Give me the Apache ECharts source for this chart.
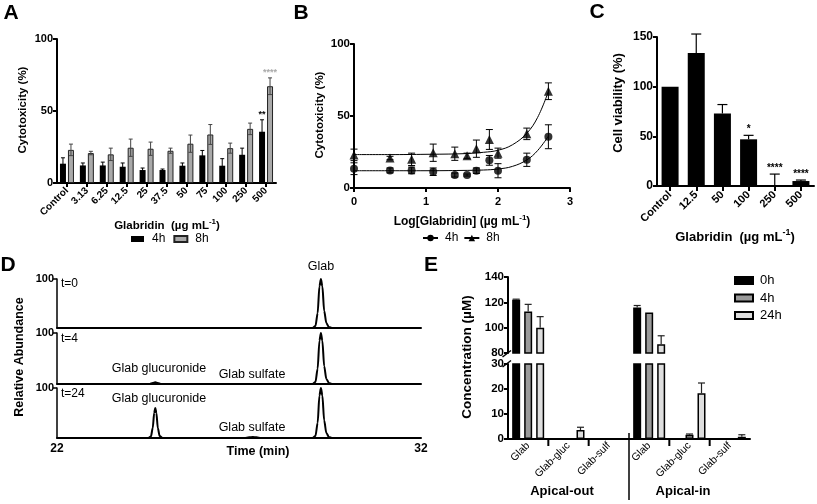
<!DOCTYPE html>
<html><head><meta charset="utf-8">
<script src="https://cdn.jsdelivr.net/npm/echarts@6/dist/echarts.min.js"></script>
<style>html,body{margin:0;padding:0;background:#fff}#c{width:817px;height:504px}</style>
</head><body><div id="c"></div>
<script>
// ---------- Panel A / B data ----------
const catA = ['Control','3.13','6.25','12.5','25','37.5','50','75','100','250','500'];
const a4h = [13.4,12.2,12.2,11.3,9.0,9.0,12.0,19.2,12.0,19.6,35.6];
const a4hErr = [4.1,1.7,2.3,2.6,1.4,0.7,1.9,3.4,4.9,4.6,8.3];
const a8h = [23.0,20.8,19.9,24.5,23.8,22.4,27.3,33.7,24.2,37.6,67.2];
const a8hErr = [4.0,1.2,4.3,6.0,4.6,1.8,6.0,6.9,3.5,4.0,5.8];
const a4hSig = ['','','','','','','','','','','**'];
const a8hSig = ['','','','','','','','','','','****'];
const logConc = [0,0.50,0.80,1.10,1.40,1.57,1.70,1.88,2.00,2.40,2.70];
const fitX = [0,0.5,1,1.5,1.8,2,2.2,2.4,2.55,2.7];
const fit4h = [12,12,12,12.2,12.5,13.2,15,19.5,26,36];
const fit8h = [23.2,23.2,23.4,23.8,24.8,26.2,30,38,49,67];
// ---------- Panel C data ----------
const catC = ['Control','12.5','50','100','250','500'];
const cVia = [100,134,73,47,1,5];
const cErr = [0,19,9,4,11,1];
const cSig = ['','','','*','****','****'];
// ---------- Panel D data (time, relative abundance) ----------
const glabPeak = [[29.02,0],[29.1,4],[29.16,30],[29.21,85],[29.25,100],[29.29,85],[29.34,35],[29.4,10],[29.47,2],[29.55,0]];
const traceT0 = [[22,0]].concat(glabPeak, [[32,0]]);
const traceT4 = [[22,0],[24.55,0],[24.63,2],[24.7,3.5],[24.77,2],[24.85,0]].concat(glabPeak, [[32,0]]);
const traceT24 = [[22,0],[24.5,0],[24.58,3],[24.63,20],[24.67,50],[24.7,60],[24.73,50],[24.77,20],[24.82,4],[24.9,0],
  [27.15,0],[27.28,1.5],[27.38,2],[27.48,1.5],[27.6,0]].concat(glabPeak, [[32,0]]);
// ---------- Panel E data ----------
const catE = ['Glab','Glab-gluc','Glab-sulf','Glab','Glab-gluc','Glab-sulf'];
const e0h = [122,0,0,116,0,0];
const e0hErr = [0.5,0,0,1.5,0,0];
const e4h = [112.7,0.3,0,112,1.7,0];
const e4hErr = [5.7,0,0,0,0.3,0];
const e24h = [100,3.6,0.2,87,18.3,0.9];
const e24hErr = [8.7,1.1,0,6.6,4.1,0.8];

const FF = "'Liberation Sans', Arial, Helvetica, sans-serif";
const chart = echarts.init(document.getElementById('c'));

function font(size, bold){ return (bold?'bold ':'') + size + 'px ' + FF; }
function txt(x, y, text, size, bold, o){
  o = o || {};
  return {type:'text', x:x, y:y, rotation:o.rot||0, silent:true, z:100,
    style:{text:text, fill:o.color||'#000', font:font(size,bold), align:o.align||'center', verticalAlign:o.va||'middle'}};
}
function supTxt(x, y, pre, sup, post, size){
  return {type:'text', x:x, y:y, silent:true, z:100,
    style:{text:'{a|'+pre+'}{s|'+sup+'}{a|'+post+'}', align:'center', verticalAlign:'middle',
      rich:{a:{font:font(size,true), fill:'#000', lineHeight:size+4},
            s:{font:font(Math.round(size*0.7),true), fill:'#000', verticalAlign:'top'}}}};
}
function line(x1,y1,x2,y2,w){
  return {type:'line', silent:true, z:100, shape:{x1,y1,x2,y2}, style:{stroke:'#000', lineWidth:w||2}};
}
function valAxis(gi, min, max, interval, fs, extra){
  const a = {type:'value', gridIndex:gi, min, max, interval,
    axisLine:{show:true, lineStyle:{color:'#000', width:2}},
    axisTick:{show:true, length:4, lineStyle:{color:'#000', width:2}},
    axisLabel:{fontFamily:FF, fontWeight:'bold', fontSize:fs, color:'#000', margin:4},
    splitLine:{show:false}};
  return Object.assign(a, extra||{});
}
function errBars(xi, yi, xs, vals, errs, opt){
  const data = vals.map((v,i)=>[xs ? xs[i] : i, v, errs[i]]);
  return {type:'custom', xAxisIndex:xi, yAxisIndex:yi, z:5, silent:true, data:data,
    renderItem:function(params, api){
      const x = api.value(0), v = api.value(1), e = api.value(2);
      if (!e) return null;
      if (opt.min != null && v < opt.min) return null;
      if (opt.max != null && v + e > opt.max) return null;
      const top = api.coord([x, v+e]);
      const mid = api.coord([x, v]);
      const bot = opt.both ? api.coord([x, v-e]) : mid;
      const px = mid[0] + (opt.offset||0);
      const c = opt.cap;
      const st = {stroke:opt.color||'#000', lineWidth:opt.width||1};
      const ch = [{type:'line', shape:{x1:px,y1:top[1],x2:px,y2:bot[1]}, style:st},
                  {type:'line', shape:{x1:px-c,y1:top[1],x2:px+c,y2:top[1]}, style:st}];
      if (opt.both) ch.push({type:'line', shape:{x1:px-c,y1:bot[1],x2:px+c,y2:bot[1]}, style:st});
      return {type:'group', children:ch};
    }};
}
function sigLabels(xi, yi, vals, errs, sigs, opt){
  return {type:'custom', xAxisIndex:xi, yAxisIndex:yi, z:6, silent:true,
    data: vals.map((v,i)=>[i, v + errs[i]]),
    renderItem:function(params, api){
      const s = sigs[params.dataIndex];
      if (!s) return null;
      const p = api.coord([api.value(0), api.value(1)]);
      return {type:'text', x:p[0]+(opt.offset||0), y:p[1]-(opt.gap||1),
        style:{text:s, fill:opt.color||'#000', font:font(opt.size||10,true), align:'center', verticalAlign:'bottom'}};
    }};
}
const nz = arr => arr.map(v => v ? v : null);

// grid geometry (layout)
const GE = {left:508, width:242};
const grids = [
  {left:57, top:39, width:219, height:144},   // A
  {left:354, top:44, width:216, height:144},  // B
  {left:657, top:37, width:157, height:149},  // C
  {left:57, top:279, width:364, height:49},   // D t=0
  {left:57, top:333, width:364, height:51},   // D t=4
  {left:57, top:388, width:364, height:50},   // D t=24
  {left:GE.left, top:277, width:GE.width, height:76}, // E upper
  {left:GE.left, top:364, width:GE.width, height:75}  // E lower
].map(g => Object.assign(g, {containLabel:false, outerBoundsMode:'none'}));

const boldLab = (fs, extra) => Object.assign({fontFamily:FF, fontWeight:'bold', fontSize:fs, color:'#000'}, extra||{});
const axLine = {show:true, lineStyle:{color:'#000', width:2}};
const dX = gi => ({type:'value', gridIndex:gi, min:22, max:32, interval:10,
  axisLine:axLine, axisTick:{show:false}, axisLabel:{show:false}, splitLine:{show:false}});

const xAxis = [
  {type:'category', gridIndex:0, data:catA, axisLine:axLine,
    axisTick:{show:true, alignWithLabel:true, length:4, lineStyle:{color:'#000', width:2}},
    axisLabel:boldLab(10, {rotate:45, interval:0, margin:6})},
  valAxis(1, 0, 3, 1, 11, {axisLabel:boldLab(11, {margin:8})}),
  {type:'category', gridIndex:2, data:catC, axisLine:axLine,
    axisTick:{show:true, alignWithLabel:true, length:5, lineStyle:{color:'#000', width:2}},
    axisLabel:boldLab(11, {rotate:45, interval:0, margin:7})},
  dX(3), dX(4),
  Object.assign(dX(5), {axisLabel:boldLab(12, {margin:5})}),
  {type:'category', gridIndex:6, data:catE, show:false},
  {type:'category', gridIndex:7, data:catE, axisLine:axLine, axisTick:{show:false},
    axisLabel:{fontFamily:FF, fontSize:10.5, color:'#000', rotate:45, interval:0, margin:5}}
];
const dY = gi => valAxis(gi, 0, 100, 100, 11, {
  axisLine:{show:true, lineStyle:{color:'#000', width:1.5}},
  axisTick:{show:true, length:4, customValues:[100], lineStyle:{color:'#000', width:1.5}},
  axisLabel:boldLab(11, {margin:3, customValues:[100]})});
const yAxis = [
  valAxis(0, 0, 100, 50, 11),
  valAxis(1, 0, 100, 50, 11.5),
  valAxis(2, 0, 150, 50, 12),
  dY(3), dY(4), dY(5),
  valAxis(6, 80, 140, 20, 11.5),
  valAxis(7, 0, 30, 10, 11.5)
];

const series = [
  // ---- A ----
  {type:'bar', name:'A4h', xAxisIndex:0, yAxisIndex:0, data:a4h, barWidth:6, barGap:'33%', itemStyle:{color:'#000'}},
  {type:'bar', name:'A8h', xAxisIndex:0, yAxisIndex:0, data:a8h, barWidth:6, barGap:'33%',
    itemStyle:{color:'#a9a9a9', borderColor:'#222', borderWidth:1}},
  errBars(0,0,null,a4h,a4hErr,{offset:-4, cap:2, both:true, color:'#000'}),
  errBars(0,0,null,a8h,a8hErr,{offset:4, cap:2, both:true, color:'#444'}),
  sigLabels(0,0,a4h,a4hErr,a4hSig,{offset:-4, gap:1, size:9}),
  sigLabels(0,0,a8h,a8hErr,a8hSig,{offset:4, gap:1, size:9, color:'#aaa'}),
  // ---- B ----
  {type:'line', name:'B4h', xAxisIndex:1, yAxisIndex:1, data:fitX.map((x,i)=>[x,fit4h[i]]), smooth:0.4,
    symbol:'circle', symbolSize:7, showSymbol:false, lineStyle:{color:'#000', width:1}, itemStyle:{color:'#000'}},
  {type:'line', name:'B8h', xAxisIndex:1, yAxisIndex:1, data:fitX.map((x,i)=>[x,fit8h[i]]), smooth:0.4,
    symbol:'triangle', symbolSize:8, showSymbol:false, lineStyle:{color:'#000', width:1}, itemStyle:{color:'#000'}},
  errBars(1,1,logConc,a4h,a4hErr,{cap:3.5, both:true}),
  errBars(1,1,logConc,a8h,a8hErr,{cap:3.5, both:true}),
  {type:'scatter', name:'B4h pts', xAxisIndex:1, yAxisIndex:1, data:logConc.map((x,i)=>[x,a4h[i]]),
    symbol:'circle', symbolSize:8, itemStyle:{color:'#000'}, z:7},
  {type:'scatter', name:'B8h pts', xAxisIndex:1, yAxisIndex:1, data:logConc.map((x,i)=>[x,a8h[i]]),
    symbol:'triangle', symbolSize:9, itemStyle:{color:'#000'}, z:7},
  // ---- C ----
  {type:'bar', name:'C', xAxisIndex:2, yAxisIndex:2, data:cVia, barWidth:17, itemStyle:{color:'#000'}},
  errBars(2,2,null,cVia,cErr,{cap:5, color:'#000', width:1.2}),
  sigLabels(2,2,cVia,cErr,cSig,{gap:1, size:10}),
  // ---- D ----
  {type:'line', name:'t0', xAxisIndex:3, yAxisIndex:3, data:traceT0, showSymbol:false, smooth:0.3, smoothMonotone:'x',
    lineStyle:{color:'#000', width:2}, z:4},
  {type:'line', name:'t4', xAxisIndex:4, yAxisIndex:4, data:traceT4, showSymbol:false, smooth:0.3, smoothMonotone:'x',
    lineStyle:{color:'#000', width:2}, z:4},
  {type:'line', name:'t24', xAxisIndex:5, yAxisIndex:5, data:traceT24, showSymbol:false, smooth:0.3, smoothMonotone:'x',
    lineStyle:{color:'#000', width:2}, z:4}
];
// ---- E ----
const eSets = [['E0h', e0h, e0hErr, '#000'], ['E4h', e4h, e4hErr, '#9a9a9a'], ['E24h', e24h, e24hErr, '#dedede']];
const eOff = [-12, 0, 12];
[6,7].forEach(ax => {
  eSets.forEach(s => series.push({type:'bar', name:s[0], xAxisIndex:ax, yAxisIndex:ax, data:nz(s[1]),
    barWidth:8, barGap:'50%', itemStyle:{color:s[3], borderColor:'#000', borderWidth:1.5}}));
});
eSets.forEach((s,k) => {
  series.push(errBars(6,6,null,s[1],s[2],{offset:eOff[k], cap:3.5, min:80, width:1.2, color:'#222'}));
  series.push(errBars(7,7,null,s[1],s[2],{offset:eOff[k], cap:3.5, max:30, width:1.2, color:'#222'}));
});

const strip = n => n.replace(/^[A-Z]/, '');
const legend = [
  {data:['A4h','A8h'], left:131, top:233, padding:0, itemWidth:13, itemHeight:6, itemGap:8, icon:'rect',
    formatter:strip, selectedMode:false, textStyle:{fontFamily:FF, fontSize:12, color:'#000', padding:[0,0,0,3]}},
  {data:['B4h','B8h'], left:422, top:232, padding:0, itemWidth:15, itemHeight:8, itemGap:5,
    formatter:strip, selectedMode:false, textStyle:{fontFamily:FF, fontSize:12, color:'#000', padding:[0,0,0,2]}},
  {data:['E0h','E4h','E24h'], orient:'vertical', left:734, top:274, padding:0, itemWidth:18, itemHeight:7, itemGap:4.5,
    icon:'rect', formatter:strip, selectedMode:false, textStyle:{fontFamily:FF, fontSize:13, color:'#000', padding:[0,0,0,2]}}
];

const graphic = [
  txt(11,13,'A',21,true), txt(301,13,'B',21,true), txt(597,12,'C',21,true),
  txt(8,265,'D',21,true), txt(431,265,'E',21,true),
  // A titles
  txt(23,110,'Cytotoxicity (%)',11.5,true,{rot:Math.PI/2}),
  supTxt(167,226,'Glabridin  (µg mL','-1',')',11.5),
  // B titles
  txt(320,115,'Cytotoxicity (%)',11.5,true,{rot:Math.PI/2}),
  supTxt(462,222,'Log[Glabridin] (µg mL','-1',')',12),
  // C titles
  txt(618,103,'Cell viability (%)',13,true,{rot:Math.PI/2}),
  supTxt(735,237,'Glabridin  (µg mL','-1',')',13),
  // D
  txt(20,357,'Relative Abundance',12.5,true,{rot:Math.PI/2}),
  txt(258,452,'Time (min)',12.5,true),
  txt(61,284,'t=0',12,false,{align:'left'}),
  txt(61,339,'t=4',12,false,{align:'left'}),
  txt(61,394,'t=24',12,false,{align:'left'}),
  txt(321,267,'Glab',12.5,false),
  txt(159,369,'Glab glucuronide',12.5,false),
  txt(252,375,'Glab sulfate',12.5,false),
  txt(159,399,'Glab glucuronide',12.5,false),
  txt(252,428,'Glab sulfate',12.5,false),
  // E
  txt(467,357,'Concentration (µM)',13.5,true,{rot:Math.PI/2}),
  txt(562,491,'Apical-out',13,true),
  txt(683,491,'Apical-in',13,true),
  line(502.5,357,511,350.5,1.5), line(502.5,367,511,360.5,1.5)
];
const cw = GE.width/6;
[1,2,4,5].forEach(k => graphic.push(line(GE.left+k*cw, 439, GE.left+k*cw, 446, 2)));
graphic.push(line(GE.left+3*cw, 433, GE.left+3*cw, 500, 1.5));

chart.setOption({
  animation:false,
  backgroundColor:'#fff',
  textStyle:{fontFamily:FF},
  grid:grids, xAxis:xAxis, yAxis:yAxis, series:series, legend:legend, graphic:graphic
});
</script></body></html>
